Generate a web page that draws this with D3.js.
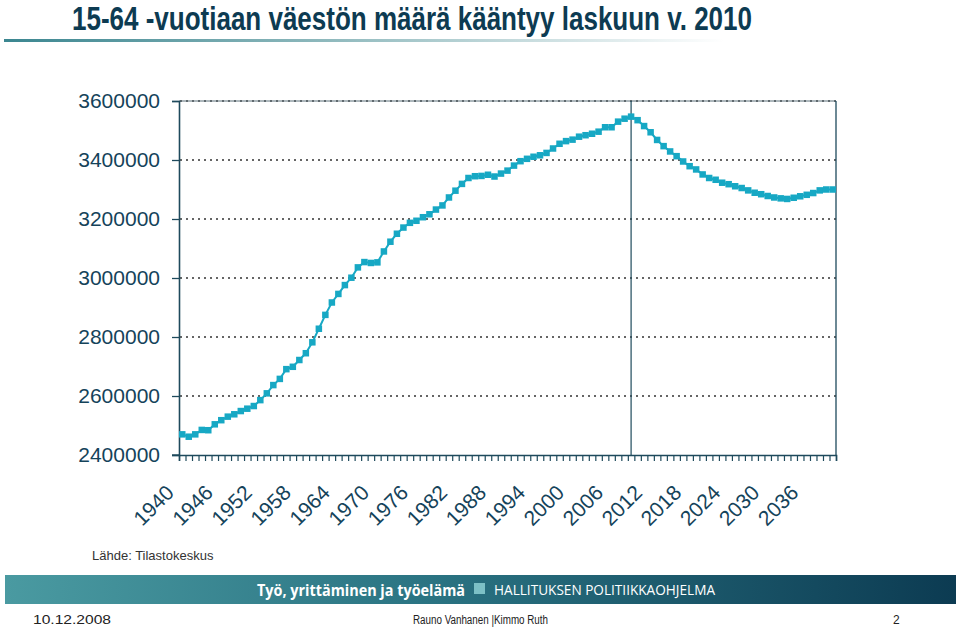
<!DOCTYPE html>
<html><head><meta charset="utf-8">
<script src="https://cdn.jsdelivr.net/npm/d3@7"></script>
<style>
html,body{margin:0;padding:0;background:#fff;}
svg{display:block;}
</style></head>
<body>
<svg id="chart" width="960" height="630"></svg>
<script>
const years = [1940,1941,1942,1943,1944,1945,1946,1947,1948,1949,
1950,1951,1952,1953,1954,1955,1956,1957,1958,1959,
1960,1961,1962,1963,1964,1965,1966,1967,1968,1969,
1970,1971,1972,1973,1974,1975,1976,1977,1978,1979,
1980,1981,1982,1983,1984,1985,1986,1987,1988,1989,
1990,1991,1992,1993,1994,1995,1996,1997,1998,1999,
2000,2001,2002,2003,2004,2005,2006,2007,2008,2009,
2010,2011,2012,2013,2014,2015,2016,2017,2018,2019,
2020,2021,2022,2023,2024,2025,2026,2027,2028,2029,
2030,2031,2032,2033,2034,2035,2036,2037,2038,2039,2040];

const population = [2470000,2462000,2470000,2485000,2484000,2504000,2518000,2530000,2538000,2549000,
2557000,2566000,2586000,2609000,2637000,2658000,2691000,2699000,2722000,2745000,
2782000,2828000,2875000,2917000,2946000,2976000,3001000,3036000,3054000,3051000,
3053000,3090000,3123000,3150000,3171000,3187000,3194000,3206000,3216000,3232000,
3246000,3273000,3296000,3319000,3339000,3345000,3346000,3350000,3344000,3354000,
3364000,3381000,3396000,3404000,3411000,3416000,3424000,3439000,3455000,3464000,
3469000,3479000,3484000,3489000,3496000,3511000,3511000,3530000,3540000,3547000,
3535000,3515000,3494000,3468000,3447000,3429000,3413000,3395000,3379000,3368000,
3351000,3339000,3333000,3323000,3318000,3311000,3305000,3297000,3289000,3284000,
3278000,3273000,3270000,3268000,3272000,3277000,3282000,3288000,3297000,3300000,3300000];

const yTicks = [2400000,2600000,2800000,3000000,3200000,3400000,3600000];
const xTickLabels = ["1940","1946","1952","1958","1964","1970","1976","1982","1988","1994","2000","2006","2012","2018","2024","2030","2036"];
const peakYear = 2009;

const title = "15-64 -vuotiaan väestön määrä kääntyy laskuun v. 2010";
const source = "Lähde: Tilastokeskus";
const bannerLeft = "Työ, yrittäminen ja työelämä";
const bannerRight = "HALLITUKSEN POLITIIKKAOHJELMA";
const footDate = "10.12.2008";
const footAuthors = "Rauno Vanhanen |Kimmo Ruth";
const footPage = "2";

const svg = d3.select("#chart");
const defs = svg.append("defs");

const dark = "#0d3b52";
const labelCol = "#15435a";
const axisCol = "#1e4a5c";
const lineCol = "#17a8c4";

// Title
svg.append("text").attr("x", 72).attr("y", 30)
  .attr("font-family", "'Liberation Sans',Arial,sans-serif")
  .attr("font-weight", "bold").attr("font-size", 33).attr("fill", dark)
  .attr("textLength", 680).attr("lengthAdjust", "spacingAndGlyphs")
  .text(title);

const ug = defs.append("linearGradient").attr("id", "ug").attr("x1", "0").attr("x2", "1");
ug.append("stop").attr("offset", "0").attr("stop-color", "#3b8690");
ug.append("stop").attr("offset", "0.45").attr("stop-color", "#8fb9bd");
ug.append("stop").attr("offset", "1").attr("stop-color", "#ffffff");
svg.append("rect").attr("x", 4).attr("y", 39).attr("width", 720).attr("height", 3).attr("fill", "url(#ug)");

// Scales
const x = d3.scaleBand().domain(years).range([179, 836]).padding(0);
const y = d3.scaleLinear().domain([2400000, 3600000]).range([455, 101]);

// Gridlines
svg.append("g").selectAll("line").data(yTicks.filter(v => v > 2400000)).join("line")
  .attr("x1", 180).attr("x2", 836)
  .attr("y1", d => y(d)).attr("y2", d => y(d))
  .attr("stroke", "#333").attr("stroke-width", 1.6).attr("stroke-dasharray", "2,4");
svg.append("line").attr("x1", 179).attr("x2", 836).attr("y1", y(3600000)).attr("y2", y(3600000))
  .attr("stroke", "#5a6e78").attr("stroke-width", 1);

// Right border
svg.append("line").attr("x1", 836).attr("x2", 836).attr("y1", y(3600000)).attr("y2", y(2400000))
  .attr("stroke", axisCol).attr("stroke-width", 1.3);

// Y axis
const yAxis = d3.axisLeft(y).tickValues(yTicks).tickSize(7).tickPadding(12).tickFormat(d3.format("d"));
const gy = svg.append("g").attr("transform", "translate(179,0)").call(yAxis);
gy.select(".domain").attr("stroke", axisCol).attr("stroke-width", 1.6);
gy.selectAll(".tick line").attr("stroke", axisCol).attr("stroke-width", 1.3);
gy.selectAll(".tick text").attr("font-family", "'Liberation Sans',Arial,sans-serif")
  .attr("font-size", 21).attr("fill", labelCol);

// X axis
const xb = d3.scaleLinear().domain([0, years.length]).range([179, 836]);
const xAxis = d3.axisBottom(xb).tickValues(d3.range(0, years.length + 1)).tickSize(6).tickFormat("");
const gx = svg.append("g").attr("transform", "translate(0,455)").call(xAxis);
gx.select(".domain").attr("stroke", axisCol).attr("stroke-width", 1.6);
gx.selectAll(".tick line").attr("stroke", axisCol).attr("stroke-width", 1.2);
svg.append("line").attr("x1", 172).attr("x2", 179).attr("y1", 455).attr("y2", 455).attr("stroke", axisCol).attr("stroke-width", 1.3);

svg.append("g").selectAll("text").data(xTickLabels).join("text")
  .attr("transform", d => `translate(${x(+d) + x.bandwidth()/2 - 7},${494}) rotate(-45)`)
  .attr("text-anchor", "end")
  .attr("font-family", "'Liberation Sans',Arial,sans-serif")
  .attr("font-size", 21).attr("fill", labelCol)
  .text(d => d);

// Vertical marker line
svg.append("line")
  .attr("x1", x(peakYear) + x.bandwidth()/2).attr("x2", x(peakYear) + x.bandwidth()/2)
  .attr("y1", y(3600000)).attr("y2", y(2400000))
  .attr("stroke", axisCol).attr("stroke-width", 1.2);

// Data line
const pts = years.map((yr, i) => ({yr, v: population[i]}));
svg.append("path").datum(pts)
  .attr("d", d3.line().x(d => x(d.yr) + x.bandwidth()/2).y(d => y(d.v)))
  .attr("fill", "none").attr("stroke", lineCol).attr("stroke-width", 2);
const ms = 6.5;
svg.append("g").selectAll("rect").data(pts).join("rect")
  .attr("x", d => x(d.yr) + x.bandwidth()/2 - ms/2)
  .attr("y", d => y(d.v) - ms/2)
  .attr("width", ms).attr("height", ms).attr("fill", lineCol);

// Source
svg.append("text").attr("x", 92).attr("y", 560)
  .attr("font-family", "'Liberation Sans',Arial,sans-serif").attr("font-size", 13).attr("fill", "#333")
  .text(source);

// Banner
const bg = defs.append("linearGradient").attr("id", "bg").attr("x1", "0").attr("x2", "1");
bg.append("stop").attr("offset", "0").attr("stop-color", "#4a9aa1");
bg.append("stop").attr("offset", "0.45").attr("stop-color", "#2a7382");
bg.append("stop").attr("offset", "1").attr("stop-color", "#0c3b52");
svg.append("rect").attr("x", 5).attr("y", 575).attr("width", 951).attr("height", 29).attr("fill", "url(#bg)");
svg.append("text").attr("x", 257).attr("y", 596)
  .attr("font-family", "'Open Sans','Noto Sans',sans-serif").attr("font-weight", "bold")
  .attr("font-size", 16).attr("fill", "#fff")
  .attr("textLength", 208).attr("lengthAdjust", "spacingAndGlyphs")
  .text(bannerLeft);
svg.append("rect").attr("x", 474).attr("y", 583).attr("width", 11).attr("height", 11).attr("fill", "#7cc0c6");
svg.append("text").attr("x", 494).attr("y", 595)
  .attr("font-family", "'Open Sans','Noto Sans',sans-serif")
  .attr("font-size", 14).attr("fill", "#fff")
  .attr("textLength", 221).attr("lengthAdjust", "spacingAndGlyphs")
  .text(bannerRight);

// Footer
const ff = "'Liberation Sans',Arial,sans-serif";
svg.append("text").attr("x", 33).attr("y", 624).attr("font-family", ff).attr("font-size", 12).attr("fill", "#222")
  .attr("textLength", 78).attr("lengthAdjust", "spacingAndGlyphs").text(footDate);
svg.append("text").attr("x", 413).attr("y", 624).attr("font-family", ff).attr("font-size", 12).attr("fill", "#222")
  .attr("textLength", 135).attr("lengthAdjust", "spacingAndGlyphs").text(footAuthors);
svg.append("text").attr("x", 893).attr("y", 624).attr("font-family", ff).attr("font-size", 12).attr("fill", "#222")
  .text(footPage);
</script>
</body></html>
